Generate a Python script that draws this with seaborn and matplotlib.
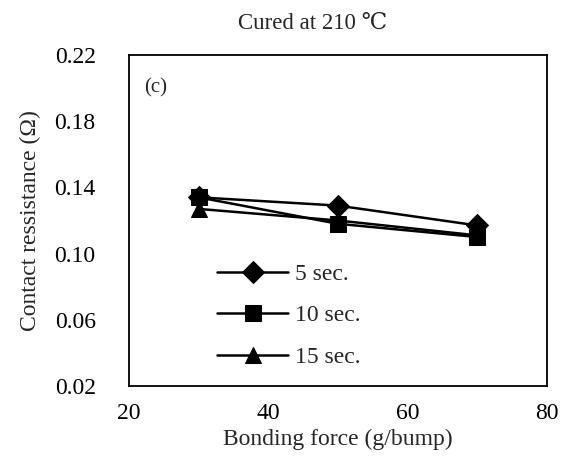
import matplotlib
matplotlib.use("Agg")
import matplotlib.pyplot as plt
import seaborn as sns
import pandas as pd

force = [30, 50, 70]
r_5s = [0.134, 0.129, 0.117]
r_10s = [0.134, 0.118, 0.110]
r_15s = [0.127, 0.120, 0.111]
series_names = ["5 sec.", "10 sec.", "15 sec."]
x_ticks = [20, 40, 60, 80]
y_ticks = [0.02, 0.06, 0.10, 0.14, 0.18, 0.22]

sns.set_style("white")
plt.rcParams['font.family'] = ['Liberation Serif', 'DejaVu Serif', 'Noto Sans CJK JP']

rows = []
for name, vals in zip(series_names, [r_5s, r_10s, r_15s]):
    for f, v in zip(force, vals):
        rows.append({"force": f, "res": v, "series": name})
df = pd.DataFrame(rows)

fig = plt.figure(figsize=(5.64, 4.58), dpi=100)
ax = fig.add_axes([0.2288, 0.1572, 0.7412, 0.7227])

sns.lineplot(data=df, x="force", y="res", hue="series", style="series",
             palette=["black"] * 3, markers=["D", "s", "^"], dashes=False,
             markersize=11, linewidth=1.8, markeredgecolor="black", ax=ax)

ax.set_xlim(20, 80)
ax.set_ylim(0.02, 0.22)
ax.set_xticks(x_ticks)
ax.set_yticks(y_ticks)
ax.set_xticklabels([str(t) for t in x_ticks])
ax.set_yticklabels([f"{t:.2f}" for t in y_ticks])
ax.tick_params(direction="in", length=5, labelsize=17, colors="black")
ax.tick_params(axis="y", pad=24)
ax.tick_params(axis="x", pad=12)
for s in ax.spines.values():
    s.set_color("black")
    s.set_linewidth(1.3)
ax.set_xlabel("Bonding force (g/bump)", fontsize=17, labelpad=4)
ax.set_ylabel("Contact ressistance (Ω)", fontsize=17, labelpad=10)
ax.set_title("Cured at 210 ℃", fontsize=16.5, pad=19, x=0.44)
ax.text(0.035, 0.93, "(c)", transform=ax.transAxes, fontsize=15, va="top")

leg = ax.legend(loc="lower left", bbox_to_anchor=(0.16, -0.01), frameon=False,
                fontsize=17, handlelength=3.0, labelspacing=0.85, handletextpad=0.3)

fig.savefig("out.png", dpi=100)
